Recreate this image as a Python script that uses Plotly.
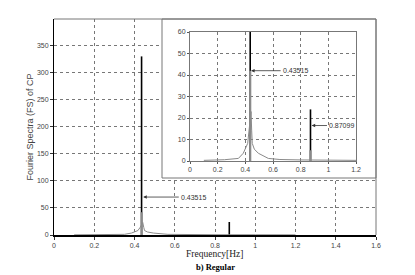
import plotly.graph_objects as go

# the page body adds an 8px offset, so the figure is 8px smaller than the window
OFF = 8
W, H = 415 - OFF, 275 - OFF

# ---- data ----
spike_freq = [0.43515, 0.87099]
spike_black = [329.5, 24.0]     # tall black stems
spike_gray = [42.0, 5.0]        # gray stems drawn on top
curve_freq = [0.10, 0.25, 0.35, 0.385, 0.417, 0.428, 0.436, 0.441, 0.446, 0.45,
              0.465, 0.494, 0.566, 0.65, 0.80, 1.00, 1.20]
curve_amp = [0.3, 0.6, 1.2, 3.6, 8.2, 14.0, 21.0, 23.0, 14.0, 8.2,
             5.5, 3.6, 1.2, 0.7, 0.5, 0.4, 0.3]

main_xticks = [0, 0.2, 0.4, 0.6, 0.8, 1.0, 1.2, 1.4, 1.6]
main_xlabels = ["0", "0.2", "0.4", "0.6", "0.8", "1", "1.2", "1.4", "1.6"]
main_yticks = [0, 50, 100, 150, 200, 250, 300, 350]
inset_xticks = [0, 0.2, 0.4, 0.6, 0.8, 1.0, 1.2]
inset_xlabels = ["0", "0.2", "0.4", "0.6", "0.8", "1", "1.2"]
inset_yticks = [0, 10, 20, 30, 40, 50, 60]

peak_labels = ["0.43515", "0.87099"]


def stems(xs, ys):
    sx, sy = [], []
    for x, y in zip(xs, ys):
        sx += [x, x, None]
        sy += [0, y, None]
    return sx, sy


def px(x):
    return (x - OFF) / W


def py(y):
    return 1 - (y - OFF) / H


fig = go.Figure()

# ---- main axes ----
bx, by = stems(spike_freq, spike_black)
fig.add_trace(go.Scatter(x=bx, y=by, mode="lines", line=dict(color="black", width=1.6),
                         xaxis="x", yaxis="y", showlegend=False, hoverinfo="skip"))
gx, gy = stems(spike_freq[:1], spike_gray[:1])
fig.add_trace(go.Scatter(x=gx, y=gy, mode="lines", line=dict(color="#8a8a8a", width=2),
                         xaxis="x", yaxis="y", showlegend=False, hoverinfo="skip"))
fig.add_trace(go.Scatter(x=curve_freq, y=curve_amp, mode="lines",
                         line=dict(color="#8a8a8a", width=1),
                         xaxis="x", yaxis="y", showlegend=False, hoverinfo="skip"))

# ---- white panel behind the inset ----
fig.add_trace(go.Scatter(x=[0, 1, 1, 0, 0], y=[0, 0, 1, 1, 0], mode="lines", fill="toself",
                         fillcolor="white", line=dict(width=0),
                         xaxis="x2", yaxis="y2", showlegend=False, hoverinfo="skip"))

# ---- inset axes ----
fig.add_trace(go.Scatter(x=bx, y=by, mode="lines", line=dict(color="black", width=1.6),
                         xaxis="x3", yaxis="y3", showlegend=False, hoverinfo="skip"))
gx2, gy2 = stems(spike_freq, spike_gray)
fig.add_trace(go.Scatter(x=gx2, y=gy2, mode="lines", line=dict(color="#8a8a8a", width=2.2),
                         xaxis="x3", yaxis="y3", showlegend=False, hoverinfo="skip"))
fig.add_trace(go.Scatter(x=curve_freq, y=curve_amp, mode="lines",
                         line=dict(color="#8a8a8a", width=1),
                         xaxis="x3", yaxis="y3", showlegend=False, hoverinfo="skip"))

tickfont = dict(family="Liberation Sans, Arial, sans-serif", size=7, color="#444")
grid = dict(showgrid=True, gridcolor="#777", gridwidth=1, griddash="dot")

main_dom_x = [px(54), px(376)]
main_dom_y = [py(235), py(19)]
box_dom_x = [px(162), px(376)]
box_dom_y = [py(178), py(19)]
ins_dom_x = [px(190), px(356)]
ins_dom_y = [py(161), py(32)]

fig.update_layout(
    width=W, height=H,
    margin=dict(l=0, r=0, t=0, b=0),
    paper_bgcolor="white", plot_bgcolor="white",
    xaxis=dict(domain=main_dom_x, range=[0, 1.6], tickvals=main_xticks, ticktext=main_xlabels,
               tickfont=tickfont, ticks="outside", ticklen=3, tickcolor="#333",
               showline=True, linecolor="black", linewidth=1.5, zeroline=False,
               automargin=False, **grid),
    yaxis=dict(domain=main_dom_y, range=[0, 398.5], tickvals=main_yticks,
               tickfont=tickfont, ticks="outside", ticklen=3, tickcolor="#333",
               showline=True, linecolor="black", linewidth=1, zeroline=False,
               title=dict(text="Fourier Spectra (FS) of CP", standoff=1,
                          font=dict(family="Liberation Sans, Arial, sans-serif",
                                    size=9, color="#444")),
               automargin=False, **grid),
    xaxis2=dict(domain=box_dom_x, range=[0, 1], visible=False, fixedrange=True),
    yaxis2=dict(domain=box_dom_y, range=[0, 1], visible=False, fixedrange=True),
    xaxis3=dict(domain=ins_dom_x, range=[0, 1.2], tickvals=inset_xticks, ticktext=inset_xlabels,
                tickfont=tickfont, ticks="outside", ticklen=2, tickcolor="#555",
                showline=True, mirror=True, linecolor="#777", linewidth=1, zeroline=False,
                anchor="y3", automargin=False, **grid),
    yaxis3=dict(domain=ins_dom_y, range=[0, 60], tickvals=inset_yticks,
                tickfont=tickfont, ticks="outside", ticklen=2, tickcolor="#555",
                showline=True, mirror=True, linecolor="#777", linewidth=1, zeroline=False,
                anchor="x3", automargin=False, **grid),
    shapes=[
        dict(type="line", xref="paper", yref="paper", x0=main_dom_x[0], x1=main_dom_x[1],
             y0=main_dom_y[1], y1=main_dom_y[1], line=dict(color="#777", width=1), layer="above"),
        dict(type="line", xref="paper", yref="paper", x0=main_dom_x[1], x1=main_dom_x[1],
             y0=main_dom_y[0], y1=main_dom_y[1], line=dict(color="#777", width=1), layer="above"),
        dict(type="rect", xref="paper", yref="paper", x0=box_dom_x[0], x1=box_dom_x[1],
             y0=box_dom_y[0], y1=box_dom_y[1], line=dict(color="#777", width=1), layer="above"),
    ],
)

ann_font = dict(family="Liberation Sans, Arial, sans-serif", size=7, color="#333")
arrow = dict(showarrow=True, arrowhead=2, arrowsize=0.9, arrowwidth=0.8, arrowcolor="#333",
             xanchor="left", yanchor="middle", font=ann_font, standoff=0, startstandoff=0)
fig.add_annotation(x=spike_freq[0] + 0.008, y=70, ax=0.62, ay=70, axref="x", ayref="y",
                   xref="x", yref="y", text=peak_labels[0], **arrow)
fig.add_annotation(x=spike_freq[0] + 0.006, y=42, ax=0.655, ay=42, axref="x3", ayref="y3",
                   xref="x3", yref="y3", text=peak_labels[0], **arrow)
fig.add_annotation(x=spike_freq[1] + 0.008, y=16.5, ax=0.99, ay=16.5, axref="x3", ayref="y3",
                   xref="x3", yref="y3", text=peak_labels[1], **arrow)

# x-axis title and caption placed explicitly
fig.add_annotation(x=px(215), y=py(254), xref="paper", yref="paper", showarrow=False,
                   xanchor="center", yanchor="middle", text="Frequency[Hz]",
                   font=dict(family="Liberation Serif, Times New Roman, serif", size=9.5, color="#222"))
fig.add_annotation(x=px(215), y=py(267), xref="paper", yref="paper", showarrow=False,
                   xanchor="center", yanchor="middle", text="<b>b) Regular</b>",
                   font=dict(family="Liberation Serif, Times New Roman, serif", size=8.5, color="black"))

fig.write_html("out.html")
